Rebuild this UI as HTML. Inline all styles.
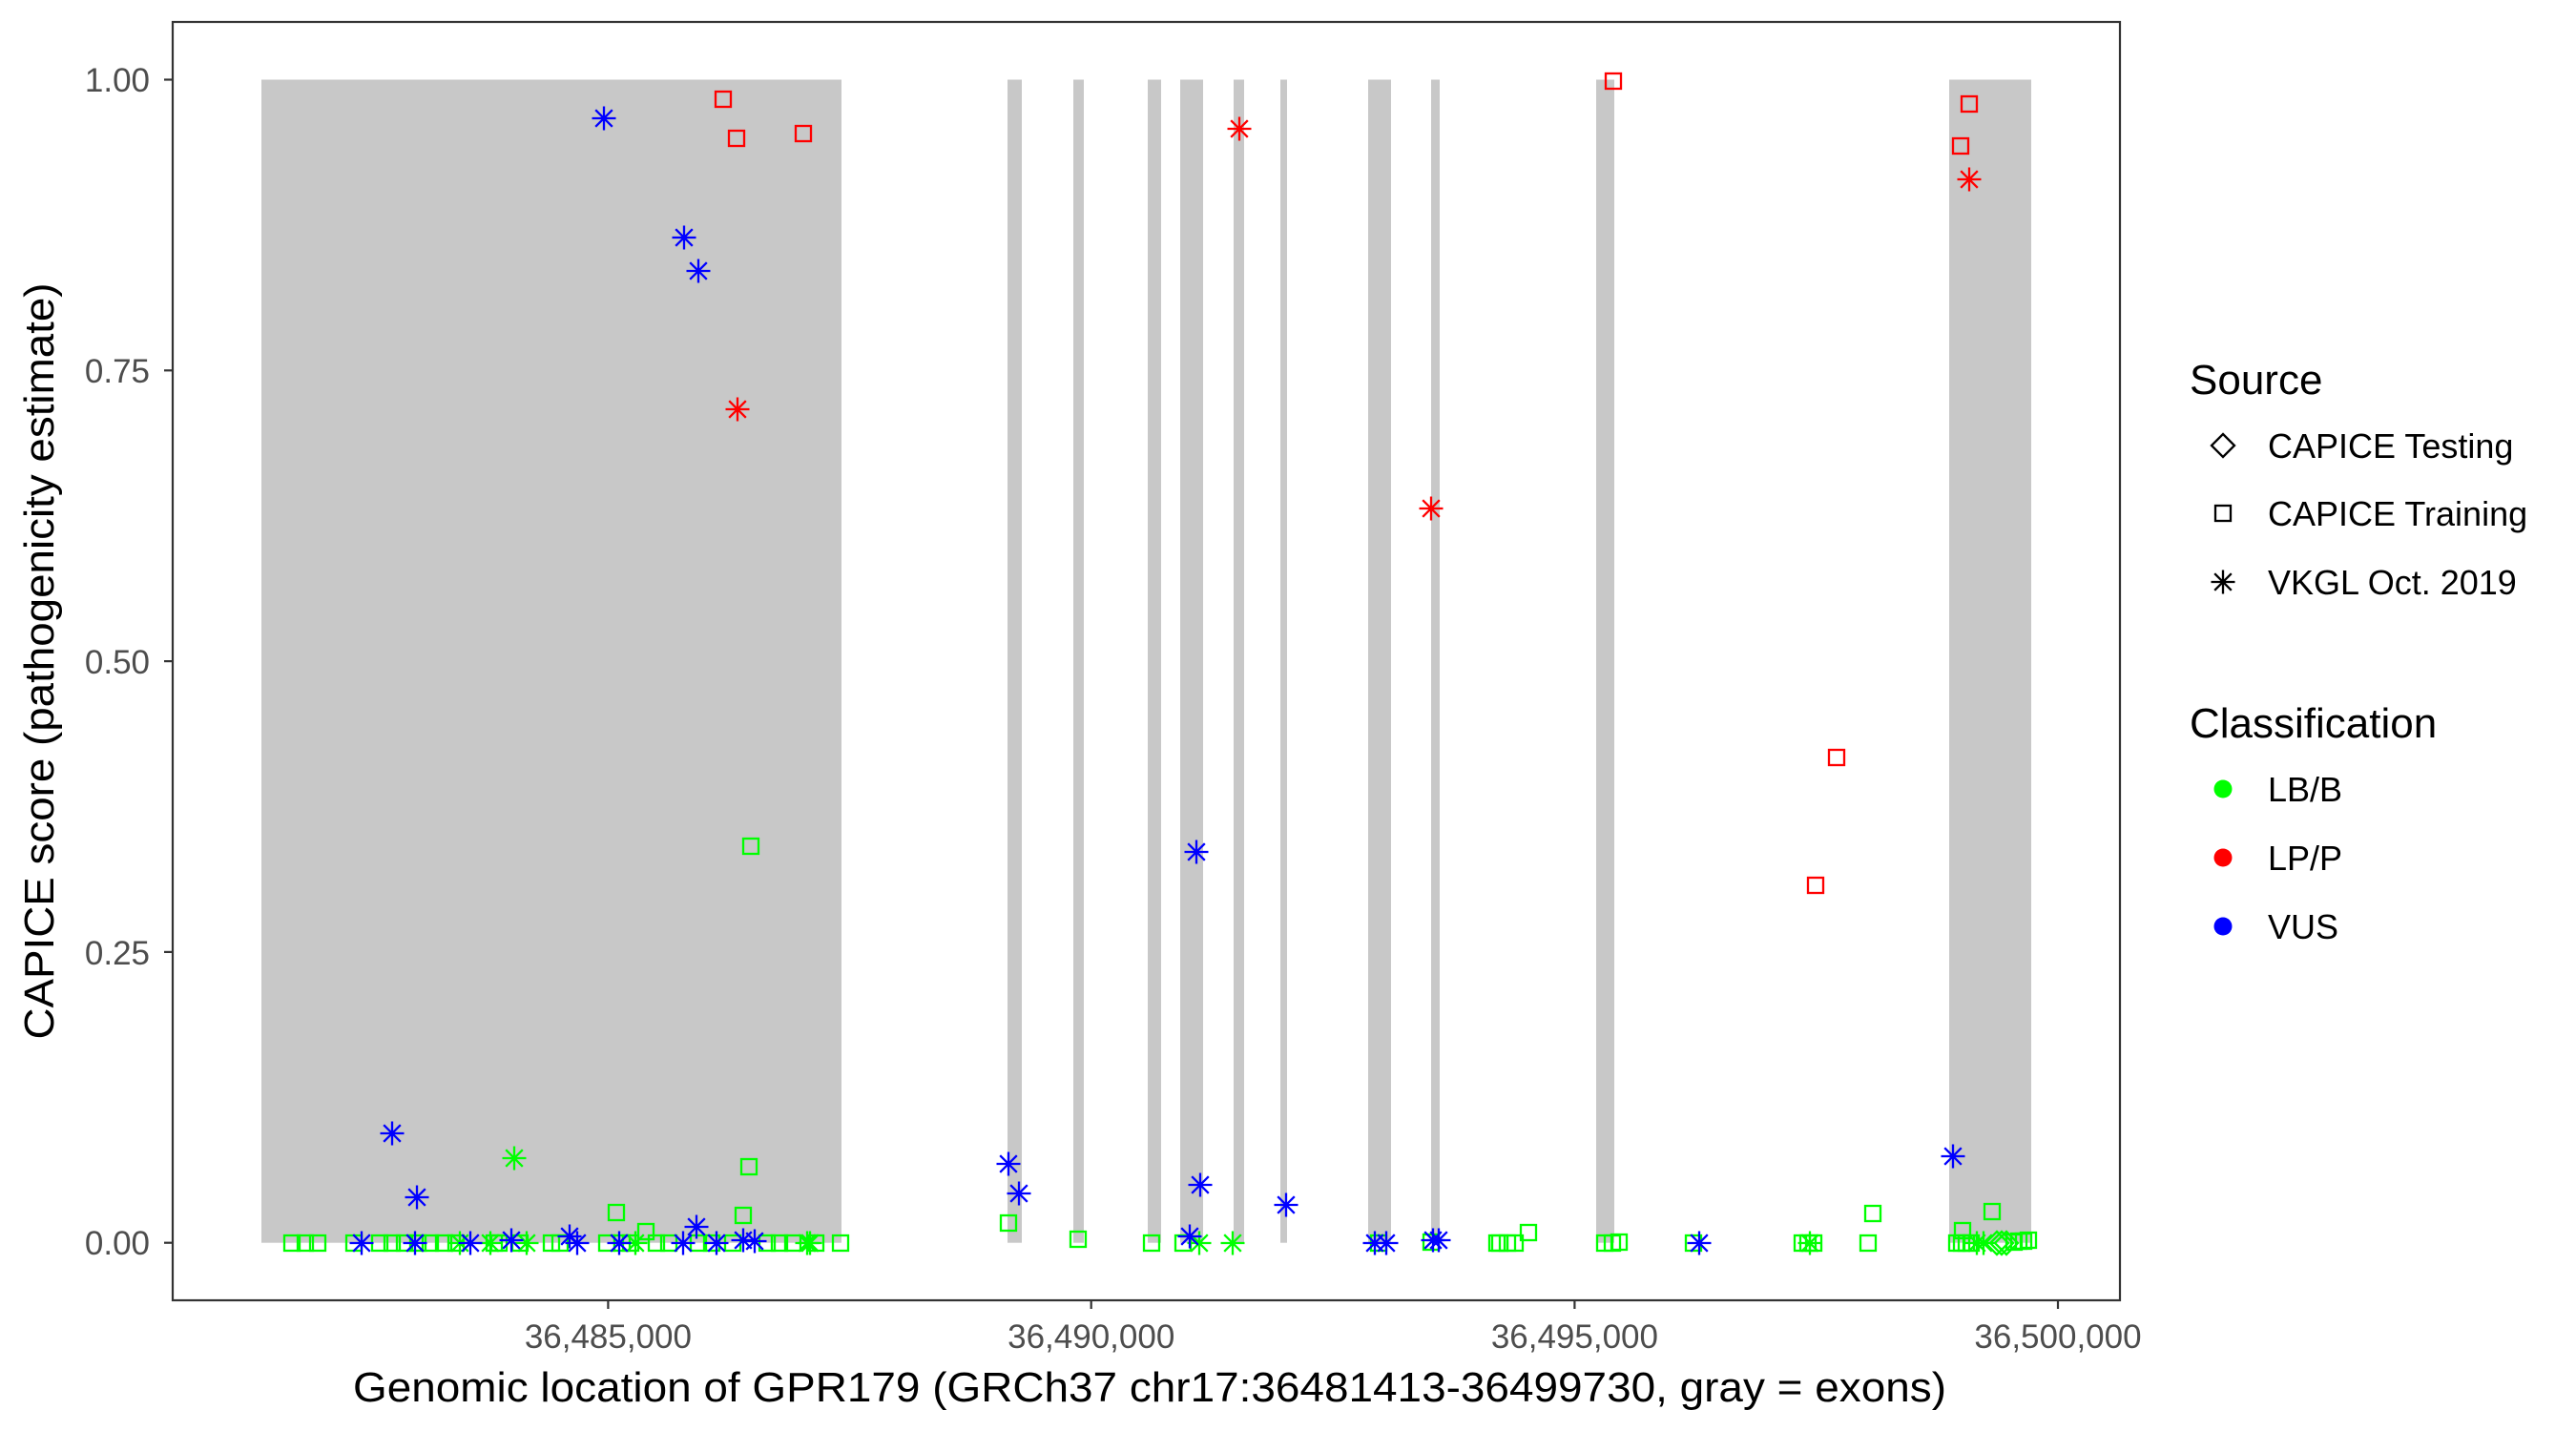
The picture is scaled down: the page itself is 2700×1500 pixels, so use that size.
<!DOCTYPE html>
<html><head><meta charset="utf-8"><style>
html,body{margin:0;padding:0;background:#fff}
svg{display:block}
text{font-family:"Liberation Sans",Arial,sans-serif}
</style></head><body>
<svg width="2700" height="1500" viewBox="0 0 2700 1500" xmlns="http://www.w3.org/2000/svg">
<defs>
<g id="sq"><rect x="-8" y="-8" width="16" height="16" fill="none"/></g>
<g id="as"><path d="M0,-12.5V12.5M-12.5,0H12.5M-8.8,-8.8L8.8,8.8M-8.8,8.8L8.8,-8.8" fill="none"/></g>
<g id="dm"><path d="M0,-12L12,0L0,12L-12,0Z" fill="none"/></g>
</defs>
<rect width="2700" height="1500" fill="#fff"/>
<g fill="#c8c8c8">
<rect x="274" y="83.5" width="608" height="1219.2"/>
<rect x="1056" y="83.5" width="15" height="1219.2"/>
<rect x="1125" y="83.5" width="11" height="1219.2"/>
<rect x="1203" y="83.5" width="14" height="1219.2"/>
<rect x="1237" y="83.5" width="24" height="1219.2"/>
<rect x="1293" y="83.5" width="11" height="1219.2"/>
<rect x="1342" y="83.5" width="7" height="1219.2"/>
<rect x="1434" y="83.5" width="24" height="1219.2"/>
<rect x="1500" y="83.5" width="9" height="1219.2"/>
<rect x="1673" y="83.5" width="19" height="1219.2"/>
<rect x="2043" y="83.5" width="86" height="1219.2"/>
</g>
<g stroke="#00ff00" stroke-width="2.3">
<use href="#sq" x="306" y="1303"/><use href="#sq" x="320" y="1303"/><use href="#sq" x="333" y="1303"/>
<use href="#sq" x="371" y="1303"/><use href="#sq" x="398" y="1303"/><use href="#sq" x="411" y="1303"/>
<use href="#sq" x="424" y="1303"/><use href="#sq" x="438" y="1303"/><use href="#sq" x="451" y="1303"/>
<use href="#sq" x="465" y="1303"/><use href="#sq" x="478" y="1303"/><use href="#sq" x="518" y="1303"/>
<use href="#sq" x="523" y="1303"/><use href="#sq" x="545" y="1303"/><use href="#sq" x="578" y="1303"/>
<use href="#sq" x="587" y="1303"/><use href="#sq" x="636" y="1303"/><use href="#sq" x="652" y="1303"/>
<use href="#sq" x="661" y="1303"/><use href="#sq" x="688" y="1303"/><use href="#sq" x="701" y="1303"/>
<use href="#sq" x="732" y="1303"/><use href="#sq" x="746" y="1303"/><use href="#sq" x="768" y="1303"/>
<use href="#sq" x="804" y="1303"/><use href="#sq" x="817" y="1303"/><use href="#sq" x="831" y="1303"/>
<use href="#sq" x="855" y="1303"/><use href="#sq" x="881" y="1303"/>
<use href="#sq" x="677" y="1291"/><use href="#sq" x="787" y="887"/><use href="#sq" x="785" y="1223"/>
<use href="#sq" x="646" y="1271"/><use href="#sq" x="779" y="1274"/>
<use href="#sq" x="1057" y="1282"/><use href="#sq" x="1130" y="1299"/><use href="#sq" x="1207" y="1303"/>
<use href="#sq" x="1240" y="1303"/><use href="#sq" x="1445" y="1303"/><use href="#sq" x="1500" y="1302"/>
<use href="#sq" x="1569" y="1303"/><use href="#sq" x="1572" y="1303"/><use href="#sq" x="1580" y="1303"/>
<use href="#sq" x="1588" y="1303"/><use href="#sq" x="1602" y="1292"/><use href="#sq" x="1682" y="1303"/>
<use href="#sq" x="1690" y="1303"/><use href="#sq" x="1697" y="1302"/><use href="#sq" x="1775" y="1303"/>
<use href="#sq" x="1889" y="1303"/><use href="#sq" x="1895" y="1303"/><use href="#sq" x="1901" y="1303"/>
<use href="#sq" x="1958" y="1303"/><use href="#sq" x="1963" y="1272"/>
<use href="#sq" x="2051" y="1303"/><use href="#sq" x="2056" y="1303"/><use href="#sq" x="2061" y="1303"/>
<use href="#sq" x="2066" y="1303"/><use href="#sq" x="2057" y="1290"/><use href="#sq" x="2088" y="1270"/>
<use href="#sq" x="2111" y="1302"/><use href="#sq" x="2116" y="1301"/><use href="#sq" x="2121" y="1301"/>
<use href="#sq" x="2126" y="1300"/>
<use href="#dm" x="2093" y="1303"/><use href="#dm" x="2098" y="1303"/><use href="#dm" x="2103" y="1303"/>
</g>
<g stroke="#00ff00" stroke-width="2.3">
<use href="#as" x="539" y="1214"/><use href="#as" x="482" y="1303"/><use href="#as" x="514" y="1303"/>
<use href="#as" x="552" y="1303"/><use href="#as" x="666" y="1303"/><use href="#as" x="846" y="1303"/>
<use href="#as" x="849" y="1303"/><use href="#as" x="1257" y="1303"/><use href="#as" x="1292" y="1303"/>
<use href="#as" x="1897" y="1303"/><use href="#as" x="2072" y="1303"/><use href="#as" x="2079" y="1303"/>
</g>
<g stroke="#ff0000" stroke-width="2.3">
<use href="#sq" x="758" y="104"/><use href="#sq" x="772" y="145"/><use href="#sq" x="842" y="140"/>
<use href="#sq" x="1691" y="85"/><use href="#sq" x="2064" y="109"/><use href="#sq" x="2055" y="153"/>
<use href="#sq" x="1925" y="794"/><use href="#sq" x="1903" y="928"/>
<use href="#as" x="773" y="429"/><use href="#as" x="1299" y="135"/><use href="#as" x="1500" y="533"/>
<use href="#as" x="2064" y="188"/>
</g>
<g stroke="#0000ff" stroke-width="2.3">
<use href="#as" x="633" y="124"/><use href="#as" x="717" y="249"/><use href="#as" x="732" y="284"/>
<use href="#as" x="411" y="1188"/><use href="#as" x="437" y="1255"/><use href="#as" x="730" y="1286"/>
<use href="#as" x="597" y="1296"/><use href="#as" x="379" y="1303"/><use href="#as" x="435" y="1303"/>
<use href="#as" x="493" y="1303"/><use href="#as" x="536" y="1300"/><use href="#as" x="605" y="1303"/>
<use href="#as" x="649" y="1303"/><use href="#as" x="716" y="1303"/><use href="#as" x="751" y="1303"/>
<use href="#as" x="779" y="1300"/><use href="#as" x="791" y="1301"/>
<use href="#as" x="1254" y="893"/><use href="#as" x="1057" y="1220"/><use href="#as" x="1068" y="1251"/>
<use href="#as" x="1258" y="1242"/><use href="#as" x="1348" y="1263"/><use href="#as" x="1247" y="1296"/>
<use href="#as" x="1441" y="1303"/><use href="#as" x="1453" y="1303"/><use href="#as" x="1502" y="1300"/>
<use href="#as" x="1508" y="1300"/><use href="#as" x="1781" y="1303"/><use href="#as" x="2047" y="1212"/>
</g>
<rect x="181" y="23" width="2041" height="1340" fill="none" stroke="#333" stroke-width="2.2"/>
<g stroke="#333" stroke-width="2.2">
<line x1="172" y1="83.5" x2="181" y2="83.5"/><line x1="172" y1="388.3" x2="181" y2="388.3"/>
<line x1="172" y1="693.1" x2="181" y2="693.1"/><line x1="172" y1="997.9" x2="181" y2="997.9"/>
<line x1="172" y1="1302.7" x2="181" y2="1302.7"/>
<line x1="637.4" y1="1363" x2="637.4" y2="1372"/><line x1="1143.7" y1="1363" x2="1143.7" y2="1372"/>
<line x1="1650.4" y1="1363" x2="1650.4" y2="1372"/><line x1="2157" y1="1363" x2="2157" y2="1372"/>
</g>
<g fill="#4d4d4d" font-size="35" text-anchor="end">
<text x="157" y="96">1.00</text><text x="157" y="401">0.75</text>
<text x="157" y="706">0.50</text><text x="157" y="1011">0.25</text>
<text x="157" y="1315">0.00</text>
</g>
<g fill="#4d4d4d" font-size="35" text-anchor="middle">
<text x="637.4" y="1413">36,485,000</text><text x="1143.7" y="1413">36,490,000</text>
<text x="1650.4" y="1413">36,495,000</text><text x="2157" y="1413">36,500,000</text>
</g>
<text x="1205" y="1469" font-size="44" text-anchor="middle" textLength="1670" lengthAdjust="spacingAndGlyphs">Genomic location of GPR179 (GRCh37 chr17:36481413-36499730, gray = exons)</text>
<text transform="translate(56,693) rotate(-90)" font-size="44" text-anchor="middle" textLength="793" lengthAdjust="spacingAndGlyphs">CAPICE score (pathogenicity estimate)</text>
<text x="2295" y="413" font-size="44">Source</text>
<g stroke="#000" stroke-width="2.3">
<use href="#dm" x="2330" y="467"/><use href="#sq" x="2330" y="538"/><use href="#as" x="2330" y="610"/>
</g>
<g font-size="36">
<text x="2377" y="480">CAPICE Testing</text>
<text x="2377" y="551">CAPICE Training</text>
<text x="2377" y="623">VKGL Oct. 2019</text>
</g>
<text x="2295" y="773" font-size="44">Classification</text>
<circle cx="2330" cy="827" r="9.5" fill="#00ff00"/>
<circle cx="2330" cy="899" r="9.5" fill="#ff0000"/>
<circle cx="2330" cy="971" r="9.5" fill="#0000ff"/>
<g font-size="36">
<text x="2377" y="840">LB/B</text>
<text x="2377" y="912">LP/P</text>
<text x="2377" y="984">VUS</text>
</g>
</svg>
</body></html>
